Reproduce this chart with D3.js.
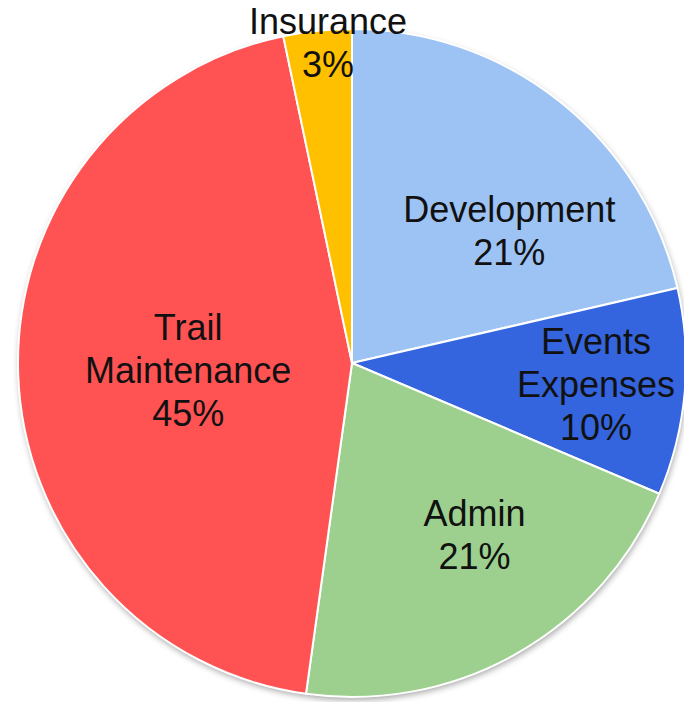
<!DOCTYPE html>
<html>
<head>
<meta charset="utf-8">
<script src="https://cdn.jsdelivr.net/npm/d3@7"></script>
<style>
  html, body { margin: 0; padding: 0; background: #ffffff; }
  svg { display: block; }
</style>
</head>
<body>
<svg id="chart" width="684" height="702"></svg>
<script>
// ---- data ----
const categories = ["Development", "Events Expenses", "Admin", "Trail Maintenance", "Insurance"];
const values = [21.4, 10.0, 20.8, 44.5, 3.3];
const percentLabels = ["21%", "10%", "21%", "45%", "3%"];
const nameLines = [["Development"], ["Events", "Expenses"], ["Admin"], ["Trail", "Maintenance"], ["Insurance"]];

// ---- layout / style ----
const colors = ["#9DC3F5", "#3465DF", "#9DD08E", "#FF5353", "#FFC000"];
const W = 684, H = 702;
const cx = 352, cy = 363, R = 334;
// label anchor (block centre) as [angle in degrees clockwise from 12 o'clock, distance from centre]
const labelAnchor = [[49.8, 206], [95, 245], [144.5, 211], [267.5, 164], [-4.3, 321]];
const fontSize = 36, lineH = 43;

const svg = d3.select("#chart");
const defs = svg.append("defs");
const f = defs.append("filter").attr("id", "shadow")
  .attr("x", "-10%").attr("y", "-10%").attr("width", "120%").attr("height", "120%");
f.append("feDropShadow").attr("dx", 1).attr("dy", 3).attr("stdDeviation", 3)
  .attr("flood-color", "#000").attr("flood-opacity", 0.35);

const data = categories.map((c, i) => ({ name: c, value: values[i], i }));
const pie = d3.pie().value(d => d.value).sort(null);
const arcs = pie(data);
const arc = d3.arc().innerRadius(0).outerRadius(R);

const g = svg.append("g").attr("transform", `translate(${cx},${cy})`);

// shadow base
g.append("circle").attr("r", R).attr("fill", "#fff").attr("filter", "url(#shadow)");

g.selectAll("path.slice")
  .data(arcs)
  .join("path")
  .attr("class", "slice")
  .attr("d", arc)
  .attr("fill", d => colors[d.data.i])
  .attr("stroke", "#ffffff")
  .attr("stroke-width", 2)
  .attr("stroke-linejoin", "round");

// labels
const lbl = g.selectAll("text.lbl")
  .data(arcs)
  .join("text")
  .attr("class", "lbl")
  .attr("font-family", "'Liberation Sans', Arial, Helvetica, sans-serif")
  .attr("font-size", fontSize)
  .attr("fill", "#111")
  .attr("text-anchor", "middle")
  .each(function(d) {
    const i = d.data.i;
    const [deg, dist] = labelAnchor[i];
    const a = deg * Math.PI / 180;
    const x = dist * Math.sin(a), y = -dist * Math.cos(a);
    const lines = nameLines[i].concat([percentLabels[i]]);
    const n = lines.length;
    const top = y - (n - 1) * lineH / 2 + fontSize * 0.36;
    const t = d3.select(this);
    lines.forEach((s, k) => {
      t.append("tspan").attr("x", x).attr("y", top + k * lineH).text(s);
    });
  });
</script>
</body>
</html>
